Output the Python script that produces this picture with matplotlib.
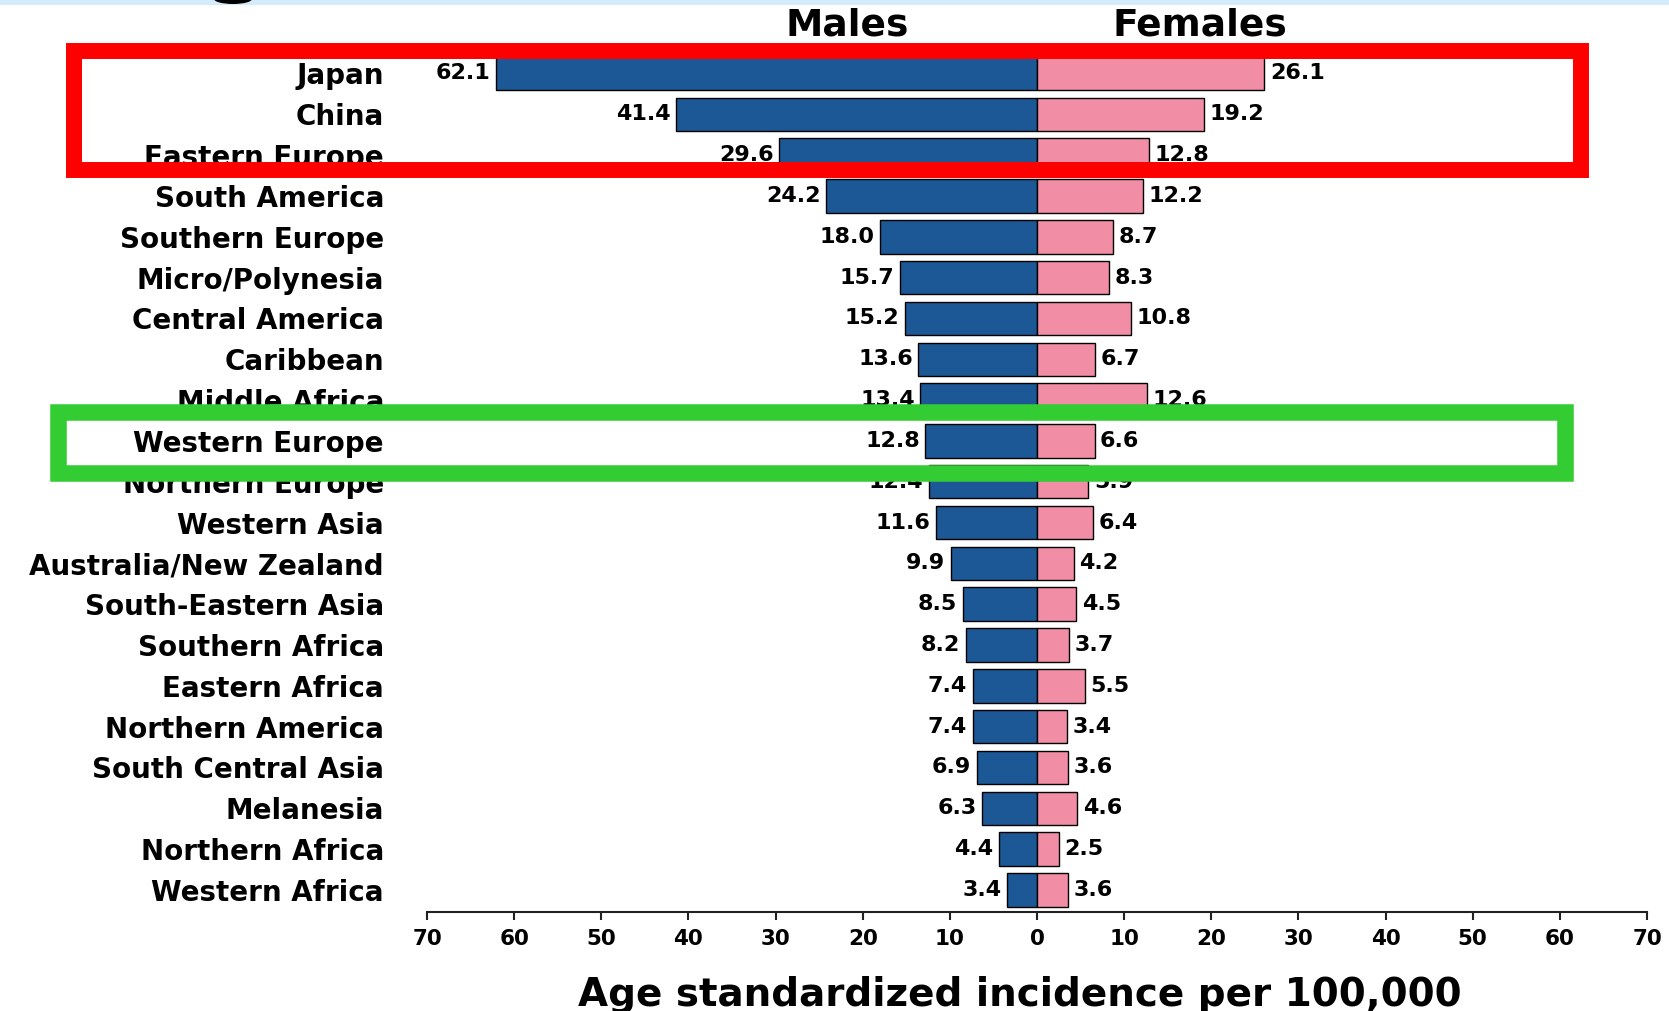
import numpy as np
import matplotlib
matplotlib.use('Agg')
import matplotlib.pyplot as plt
from matplotlib.patches import Rectangle, Ellipse

##Regions, top to bottom
countries = ['Japan', 'China', 'Eastern Europe', 'South America', 'Southern Europe',
             'Micro/Polynesia', 'Central America', 'Caribbean', 'Middle Africa',
             'Western Europe', 'Northern Europe', 'Western Asia', 'Australia/New Zealand',
             'South-Eastern Asia', 'Southern Africa', 'Eastern Africa', 'Northern America',
             'South Central Asia', 'Melanesia', 'Northern Africa', 'Western Africa']

##Age standardized incidence per 100,000
males = [62.1, 41.4, 29.6, 24.2, 18.0, 15.7, 15.2, 13.6, 13.4, 12.8, 12.4,
         11.6, 9.9, 8.5, 8.2, 7.4, 7.4, 6.9, 6.3, 4.4, 3.4]
females = [26.1, 19.2, 12.8, 12.2, 8.7, 8.3, 10.8, 6.7, 12.6, 6.6, 5.9,
           6.4, 4.2, 4.5, 3.7, 5.5, 3.4, 3.6, 4.6, 2.5, 3.6]

tick_values = list(range(-70, 71, 10))
tick_labels = [str(abs(v)) for v in tick_values]

W, H = 1669, 1011
plt.rcParams['font.family'] = ['DejaVu Sans']
plt.rcParams['font.weight'] = 'bold'

male_color = '#1c5796'
female_color = '#f28da6'


def fx(px):
    return px / W


def fy(py):
    return 1 - py / H


def main():

    fig = plt.figure(figsize=(W / 100, H / 100), dpi=100)
    fig.patch.set_facecolor('white')

    # axes placed so the 70..0..70 scale lines up with the picture
    ax = fig.add_axes([fx(427), fy(912), fx(1647) - fx(427), (912 - 49) / H])
    y = np.arange(len(countries))

    ax.barh(y, [-m for m in males], height=0.82, color=male_color,
            edgecolor='black', linewidth=1.0)
    ax.barh(y, females, height=0.82, color=female_color,
            edgecolor='black', linewidth=1.0)

    for yi, m, f in zip(y, males, females):
        ax.annotate('{:.1f}'.format(m), xy=(-m, yi), xytext=(-4, 0),
                    textcoords='offset points', ha='right', va='center',
                    fontsize=16, fontweight='bold')
        ax.annotate('{:.1f}'.format(f), xy=(f, yi), xytext=(4, 0),
                    textcoords='offset points', ha='left', va='center',
                    fontsize=16, fontweight='bold')

    ax.set_xlim(-70, 70)
    ax.set_ylim(len(countries) - 1 + 0.54, -0.6)

    ax.set_yticks(y, countries)
    ax.tick_params(axis='y', length=0, pad=31, labelsize=20)
    ax.set_xticks(tick_values, tick_labels)
    ax.tick_params(axis='x', direction='out', length=6, width=1.5,
                   pad=6, labelsize=15.5, colors='#222222', labelcolor='black')

    for side in ('top', 'left', 'right'):
        ax.spines[side].set_visible(False)
    ax.spines['bottom'].set_linewidth(1.5)
    ax.spines['bottom'].set_color('#222222')

    ax.set_xlabel('Age standardized incidence per 100,000', fontsize=28,
                  fontweight='bold')
    ax.xaxis.set_label_coords((1020 - 427) / 1220, -0.074)

    fig.text(fx(847), fy(26), 'Males', ha='center', va='center',
             fontsize=27, fontweight='bold')
    fig.text(fx(1200), fy(26), 'Females', ha='center', va='center',
             fontsize=27, fontweight='bold')

    # slide remnants at the very top
    fig.add_artist(Rectangle((0, fy(5)), 1, 5 / H, transform=fig.transFigure,
                             facecolor='#d4ebfb', edgecolor='none', zorder=0))
    fig.add_artist(Ellipse((fx(233), fy(-1)), 38 / W, 10 / H,
                           transform=fig.transFigure, facecolor='black',
                           edgecolor='none', zorder=5))

    # highlight boxes
    fig.add_artist(Rectangle((fx(74), fy(170)), fx(1581) - fx(74), (170 - 51) / H,
                             transform=fig.transFigure, fill=False,
                             edgecolor='#ff0000', linewidth=11.5, zorder=10))
    fig.add_artist(Rectangle((fx(58), fy(473)), fx(1565) - fx(58), (473 - 412) / H,
                             transform=fig.transFigure, fill=False,
                             edgecolor='#33cc33', linewidth=11.9, zorder=10))

    fig.savefig('out.png', dpi=100)


if __name__ == '__main__':

    main()
